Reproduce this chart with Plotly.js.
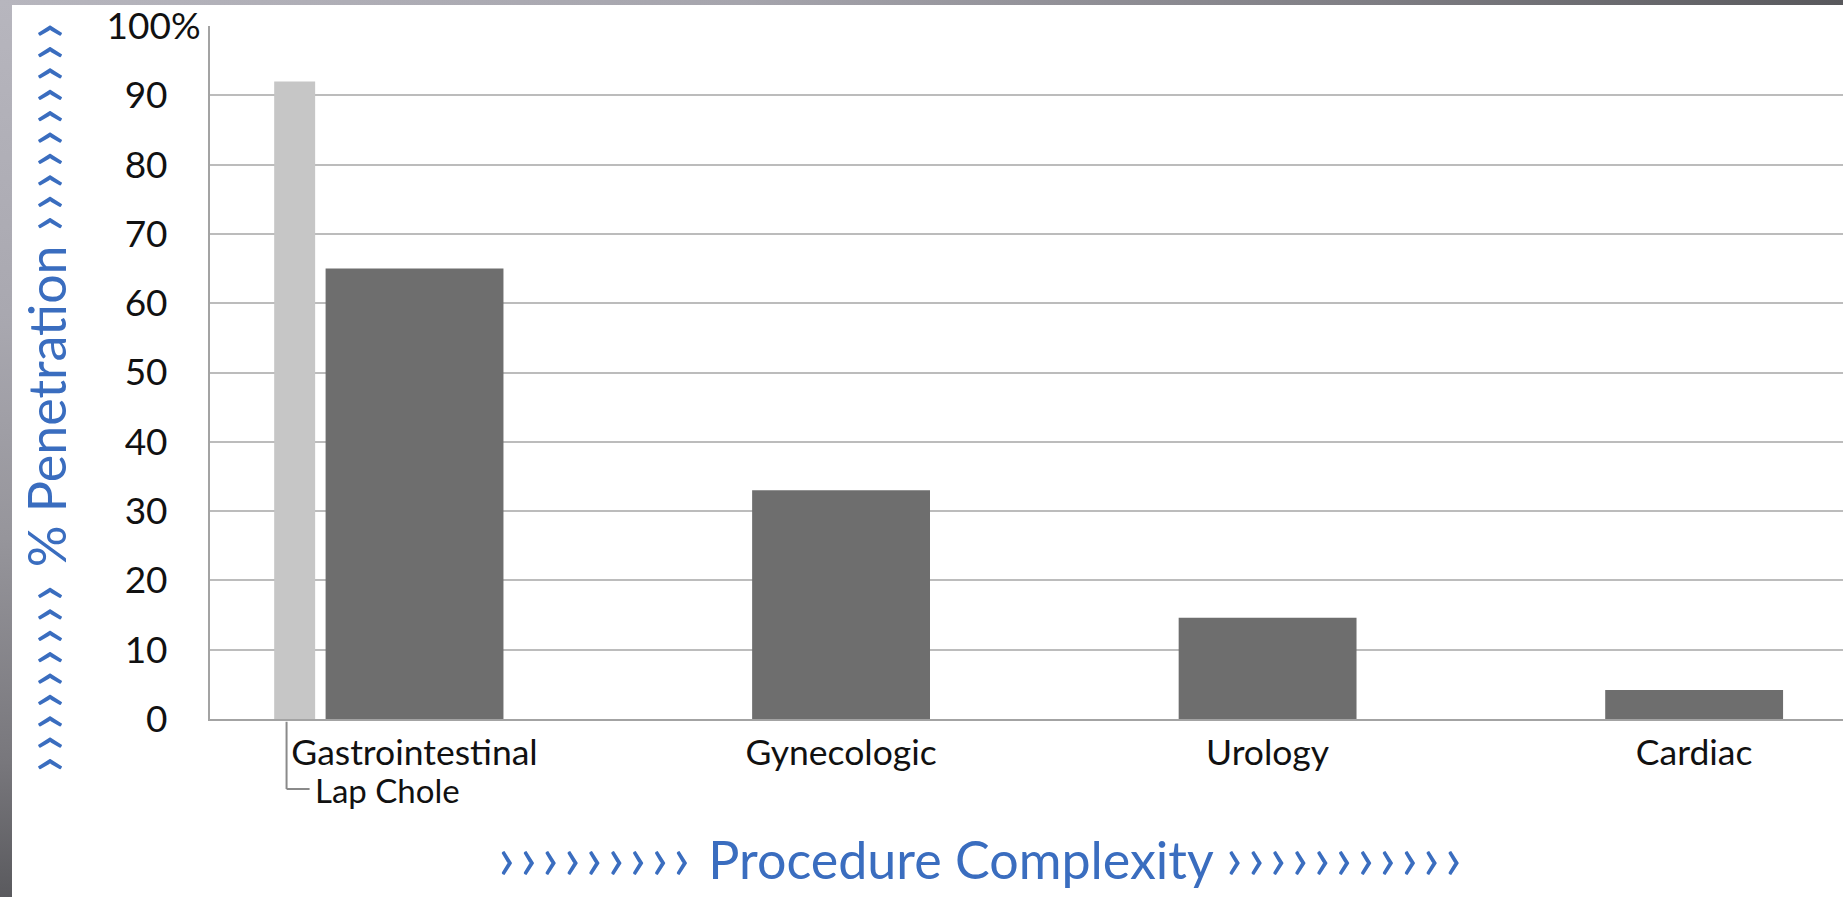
<!DOCTYPE html>
<html>
<head>
<meta charset="utf-8">
<script src="https://cdn.plot.ly/plotly-3.0.1.min.js"></script>
<style>
html,body{margin:0;padding:0;background:#fff;overflow:hidden}
#wrap{position:relative;width:1843px;height:897px}
#chart{position:absolute;left:0;top:0;width:1843px;height:897px}
#fl{position:absolute;left:0;top:0;width:12px;height:897px;pointer-events:none;
  background:linear-gradient(to bottom,#b7b6be 0%,#a9a8b0 35%,#96959b 60%,#78777c 85%,#5a5a5e 100%)}
#ft{position:absolute;left:0;top:0;width:1843px;height:5px;pointer-events:none;
  background:linear-gradient(to right,#b7b6be 0%,#a6a5ad 40%,#7e7d83 75%,#58585c 100%)}
</style>
</head>
<body>
<div id="wrap">
  <div id="chart"></div>
  <div id="fl"></div>
  <div id="ft"></div>
</div>
<script>
// ---- data ----
const categories = ['Gastrointestinal', 'Gynecologic', 'Urology', 'Cardiac'];
const penetration = [65, 33, 14.6, 4.2];
const subCategories = ['Gastrointestinal'];
const subLabels = ['Lap Chole'];
const subPenetration = [92];
const tickValues = [0, 10, 20, 30, 40, 50, 60, 70, 80, 90, 100];
const tickLabels = ['0', '10', '20', '30', '40', '50', '60', '70', '80', '90', '100%'];
const yTitle = '% Penetration';
const xTitle = 'Procedure Complexity';

// ---- styling ----
const FONT = 'Lato, "Open Sans", sans-serif';
const BLUE = '#3a6dbf';
const chev = (n, ls) => '<span style="font-size:60px;letter-spacing:' + ls + 'px">' + '\u203A'.repeat(n) + '</span>';
// digits right-aligned, "%" hangs past them
const pad = '\u2007\u2009\u2009\u200A';
const tickText = tickLabels.map(t => t.endsWith('%') ? t : t + pad);

const mainTrace = {
  type: 'bar',
  x: categories,
  y: penetration,
  width: 0.417,
  marker: {color: '#6e6e6e', line: {width: 0}},
  hoverinfo: 'skip'
};
const subTrace = {
  type: 'bar',
  x: subCategories,
  y: subPenetration,
  width: 0.096,
  offset: -0.329,
  marker: {color: '#c6c6c6', line: {width: 0}},
  hoverinfo: 'skip'
};

const layout = {
  width: 1843, height: 897,
  margin: {l: 210, r: 0, t: 26, b: 178, pad: 0},
  paper_bgcolor: '#ffffff', plot_bgcolor: '#ffffff',
  showlegend: false,
  barmode: 'overlay',
  font: {family: FONT, color: '#111111'},
  xaxis: {
    type: 'category',
    range: [-0.4795, 3.349],
    showgrid: false, zeroline: false,
    showline: true, linecolor: '#a3a3a3', linewidth: 2,
    ticks: '', ticklabelstandoff: 1,
    tickfont: {family: FONT, size: 35.5, color: '#111111'},
    fixedrange: true
  },
  yaxis: {
    range: [0, 100],
    tickvals: tickValues, ticktext: tickText,
    showgrid: true, gridcolor: '#bcbcbc', gridwidth: 2,
    zeroline: false,
    showline: true, linecolor: '#a3a3a3', linewidth: 2,
    ticks: '', ticklabelstandoff: 0,
    tickfont: {family: FONT, size: 37, color: '#111111'},
    fixedrange: true
  },
  shapes: [
    {type: 'line', xref: 'x', yref: 'paper', x0: -0.30, x1: -0.30, y0: -0.004, y1: -0.101,
     line: {color: '#8a8a8a', width: 2}},
    {type: 'line', xref: 'x', yref: 'paper', x0: -0.30, x1: -0.246, y0: -0.101, y1: -0.101,
     line: {color: '#8a8a8a', width: 2}}
  ],
  annotations: [
    {text: subLabels[0], xref: 'x', yref: 'paper', x: -0.238, y: -0.1025,
     xanchor: 'left', yanchor: 'middle', showarrow: false,
     font: {family: FONT, size: 33, color: '#111111'}},
    {text: chev(9, 4.5) + ' ' + yTitle + ' ' + chev(10, 4.5), xref: 'paper', yref: 'paper',
     x: -0.1023, y: 0.4675, xanchor: 'center', yanchor: 'middle', textangle: -90,
     showarrow: false, font: {family: FONT, size: 52, color: BLUE}},
    {text: chev(9, 5) + ' ' + xTitle + ' ' + chev(11, 5), xref: 'paper', yref: 'paper',
     x: 0.4728, y: -0.2525, xanchor: 'center', yanchor: 'bottom',
     showarrow: false, font: {family: FONT, size: 52, color: BLUE}}
  ]
};

Plotly.newPlot('chart', [subTrace, mainTrace], layout, {displayModeBar: false, staticPlot: true});
</script>
</body>
</html>
